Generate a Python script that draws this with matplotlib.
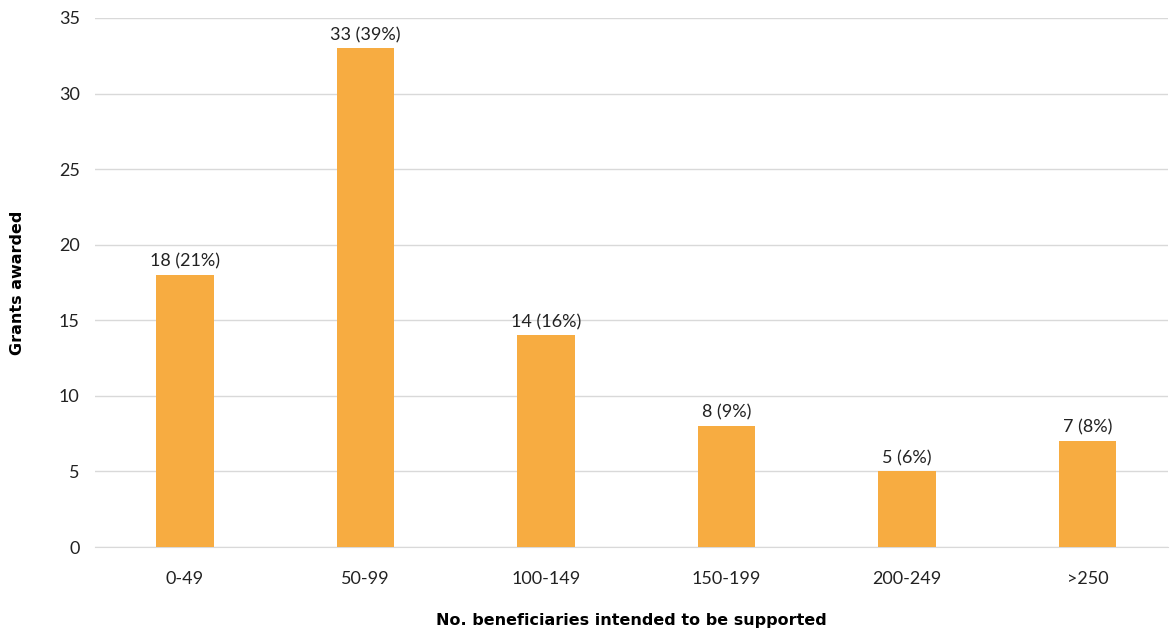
import matplotlib.pyplot as plt

categories = ["0-49", "50-99", "100-149", "150-199", "200-249", ">250"]
grants = [18, 33, 14, 8, 5, 7]
shares = [21, 39, 16, 9, 6, 8]

fig = plt.figure(figsize=(11.7, 6.32), dpi=100)
ax = fig.add_axes([95 / 1170, 1 - 547 / 632, (1168 - 95) / 1170, (547 - 18) / 632])

x = range(len(categories))
bars = ax.bar(x, grants, width=0.316, color="#F7AC41", zorder=3)

for xi, g, s in zip(x, grants, shares):
    ax.text(xi, g + 0.35, f"{g} ({s}%)", ha="center", va="bottom",
            fontsize=13, color="#222222", family="Lato")

ax.set_ylim(0, 35)
ax.set_xlim(-0.4986, 5.446)
ax.set_yticks(range(0, 36, 5))
ax.set_xticks(list(x))
ax.set_xticklabels(categories)
ax.grid(axis="y", color="#d9d9d9", linewidth=1, zorder=0)
for side in ["top", "right", "left"]:
    ax.spines[side].set_visible(False)
ax.spines["bottom"].set_color("#d9d9d9")
ax.tick_params(axis="both", length=0, labelsize=13, labelcolor="#222222")
ax.tick_params(axis="x", pad=17)
ax.tick_params(axis="y", pad=11)
for lbl in ax.get_xticklabels() + ax.get_yticklabels():
    lbl.set_family("Lato")

fig.text((95 + 1168) / 2 / 1170, 1 - 620 / 632, "No. beneficiaries intended to be supported",
         ha="center", va="center", fontsize=11.5, fontweight="bold", family="DejaVu Sans")
fig.text(18 / 1170, 1 - 283 / 632, "Grants awarded", rotation=90, ha="center", va="center",
         fontsize=11.5, fontweight="bold", family="DejaVu Sans")

fig.savefig("out.png", dpi=100)
